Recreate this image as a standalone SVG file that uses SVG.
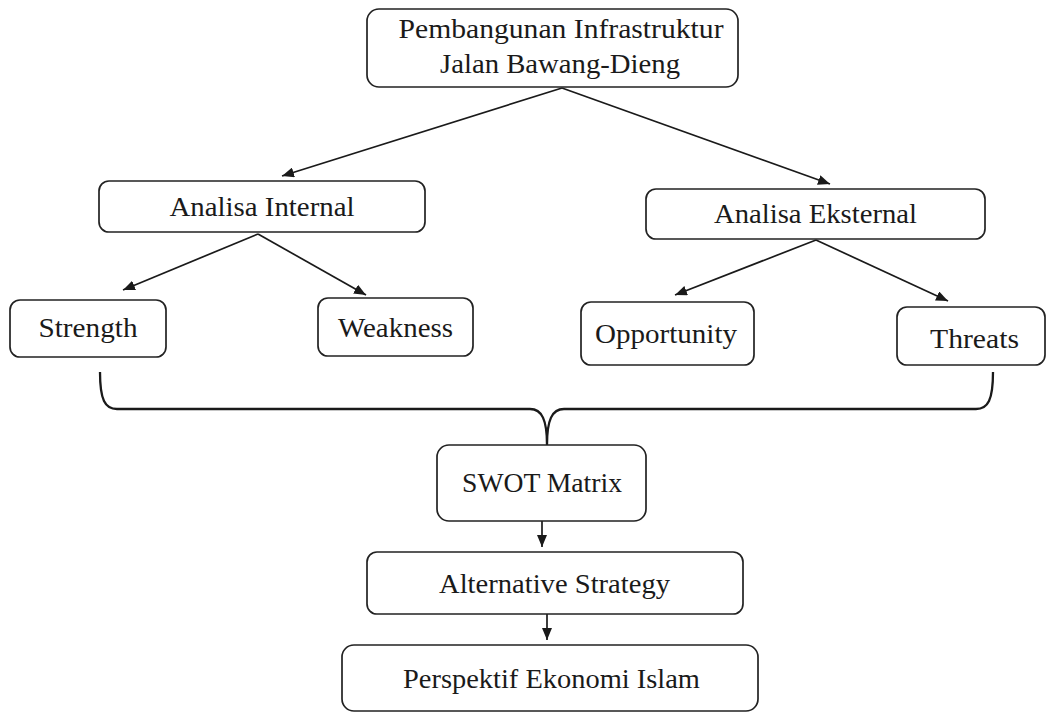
<svg xmlns="http://www.w3.org/2000/svg" width="1049" height="713" viewBox="0 0 1049 713">
<style>
.box{fill:#fff;stroke:#222;stroke-width:1.7}
.t{font-family:"Liberation Serif","DejaVu Serif",serif;font-size:28px;fill:#1a1a1a;text-anchor:middle}
.ln{fill:none;stroke:#1a1a1a;stroke-width:1.7}
.br{fill:none;stroke:#1a1a1a;stroke-width:2.3}
</style>
<defs>
<marker id="ah" markerUnits="userSpaceOnUse" markerWidth="13" markerHeight="10" refX="12" refY="5" orient="auto">
<path d="M0,0 L12,5 L0,10 z" fill="#1a1a1a"/>
</marker>
</defs>
<rect width="1049" height="713" fill="#fff"/>
<g id="connectors">
<line class="ln" x1="562" y1="88" x2="282" y2="176" marker-end="url(#ah)"/>
<line class="ln" x1="562" y1="88" x2="830" y2="184" marker-end="url(#ah)"/>
<line class="ln" x1="258" y1="234" x2="123" y2="290" marker-end="url(#ah)"/>
<line class="ln" x1="258" y1="234" x2="366" y2="295" marker-end="url(#ah)"/>
<line class="ln" x1="816" y1="240" x2="675" y2="295" marker-end="url(#ah)"/>
<line class="ln" x1="816" y1="240" x2="948" y2="301" marker-end="url(#ah)"/>
<path class="br" d="M100,372 C100,400 105,409 117,409 L530,409 C542,409 547,420 547,445 C547,420 552,409 564,409 L976,409 C988,409 993,400 993,372"/>
<line class="ln" x1="542" y1="521" x2="542" y2="547" marker-end="url(#ah)"/>
<line class="ln" x1="547" y1="614" x2="547" y2="640" marker-end="url(#ah)"/>
</g>
<g id="n-top">
<rect class="box" x="367" y="9" width="371" height="78" rx="12"/>
<text class="t" x="561" y="38" textLength="325" lengthAdjust="spacingAndGlyphs">Pembangunan Infrastruktur</text>
<text class="t" x="560" y="73" textLength="240" lengthAdjust="spacingAndGlyphs">Jalan Bawang-Dieng</text>
</g>
<g id="n-internal">
<rect class="box" x="99" y="181" width="326" height="51" rx="10"/>
<text class="t" x="262" y="216" textLength="185" lengthAdjust="spacingAndGlyphs">Analisa Internal</text>
</g>
<g id="n-eksternal">
<rect class="box" x="646" y="189" width="339" height="50" rx="10"/>
<text class="t" x="815.5" y="223" textLength="203" lengthAdjust="spacingAndGlyphs">Analisa Eksternal</text>
</g>
<g id="n-strength">
<rect class="box" x="10" y="300" width="156" height="57" rx="10"/>
<text class="t" x="88" y="337" textLength="99" lengthAdjust="spacingAndGlyphs">Strength</text>
</g>
<g id="n-weakness">
<rect class="box" x="318" y="298" width="155" height="58" rx="10"/>
<text class="t" x="395.5" y="337" textLength="115" lengthAdjust="spacingAndGlyphs">Weakness</text>
</g>
<g id="n-opportunity">
<rect class="box" x="581" y="302" width="173" height="63" rx="10"/>
<text class="t" x="666" y="343" textLength="142" lengthAdjust="spacingAndGlyphs">Opportunity</text>
</g>
<g id="n-threats">
<rect class="box" x="897" y="307" width="148" height="58" rx="10"/>
<text class="t" x="974.5" y="348" textLength="89" lengthAdjust="spacingAndGlyphs">Threats</text>
</g>
<g id="n-swot">
<rect class="box" x="437" y="445" width="209" height="76" rx="12"/>
<text class="t" x="542" y="492" textLength="160" lengthAdjust="spacingAndGlyphs">SWOT Matrix</text>
</g>
<g id="n-alternative">
<rect class="box" x="367" y="552" width="376" height="62" rx="10"/>
<text class="t" x="554.5" y="593" textLength="231" lengthAdjust="spacingAndGlyphs">Alternative Strategy</text>
</g>
<g id="n-perspektif">
<rect class="box" x="342" y="645" width="416" height="66" rx="12"/>
<text class="t" x="551.5" y="688" textLength="297" lengthAdjust="spacingAndGlyphs">Perspektif Ekonomi Islam</text>
</g>
</svg>
